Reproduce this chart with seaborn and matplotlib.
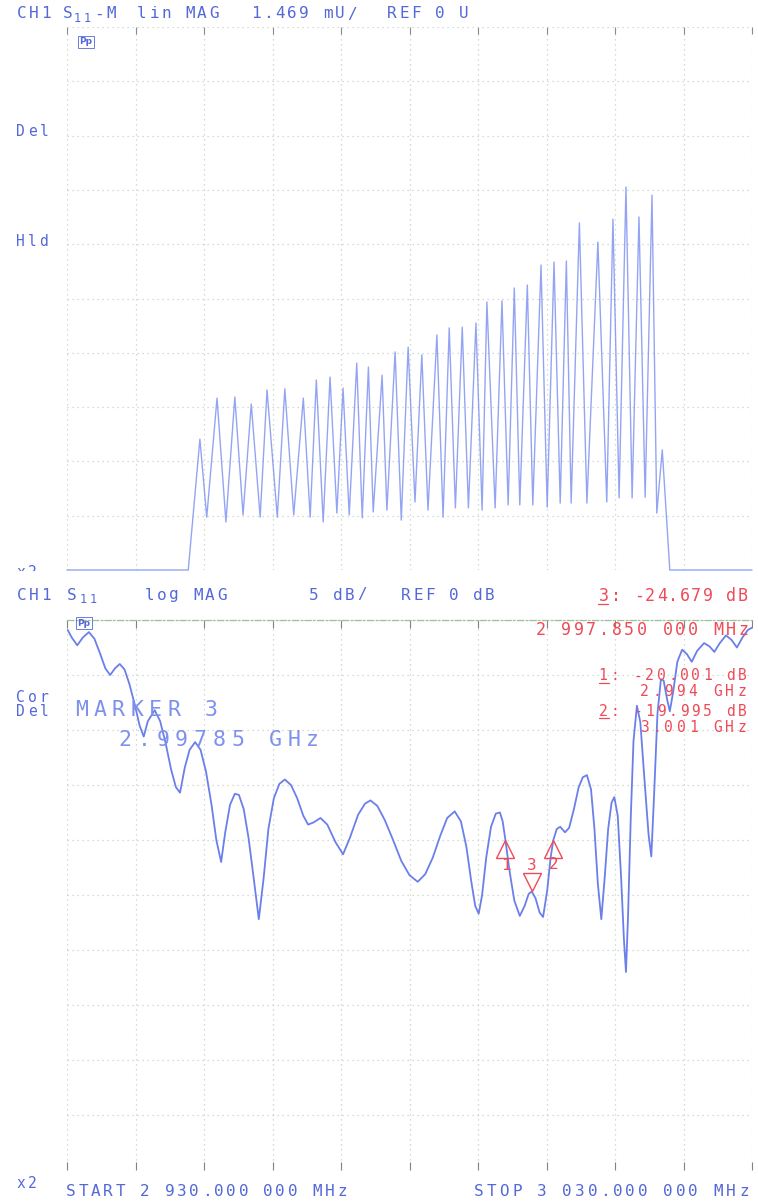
import numpy as np
import pandas as pd
import matplotlib
matplotlib.use("Agg")
import matplotlib.pyplot as plt
from matplotlib.transforms import offset_copy, Bbox, TransformedBbox
from matplotlib.lines import Line2D
import seaborn as sns

# sweep 2930 .. 3030 MHz
freq_start = 2930.0
freq_stop = 3030.0

# upper trace: S11 lin MAG (mU), peaks and troughs
lin_freq = [2930.0, 2947.7, 2949.4, 2950.4, 2951.9, 2953.2, 2954.5, 2955.7, 2956.9, 2958.2,
            2959.2, 2960.7, 2961.8, 2963.1, 2964.5, 2965.5, 2966.4, 2967.4, 2968.4, 2969.4,
            2970.3, 2971.2, 2972.3, 2973.1, 2974.0, 2974.7, 2976.0, 2976.7, 2977.9, 2978.8,
            2979.8, 2980.8, 2981.8, 2982.7, 2984.0, 2984.9, 2985.8, 2986.7, 2987.7, 2988.6,
            2989.7, 2990.6, 2991.3, 2992.5, 2993.5, 2994.4, 2995.3, 2996.1, 2997.2, 2998.0,
            2999.2, 3000.1, 3001.1, 3002.0, 3002.9, 3003.6, 3004.8, 3005.9, 3007.5, 3008.8,
            3009.7, 3010.6, 3011.6, 3012.5, 3013.5, 3014.4, 3015.4, 3016.1, 3016.9, 3018.0,
            3030.0]
lin_mu = [0.0, 0.0, 3.54, 1.43, 4.65, 1.30, 4.68, 1.49, 4.49, 1.43,
          4.87, 1.43, 4.90, 1.49, 4.65, 1.43, 5.14, 1.30, 5.22, 1.54,
          4.92, 1.49, 5.60, 1.41, 5.49, 1.57, 5.27, 1.62, 5.90, 1.35,
          6.03, 1.84, 5.82, 1.62, 6.36, 1.43, 6.55, 1.68, 6.57, 1.68,
          6.68, 1.62, 7.25, 1.68, 7.28, 1.76, 7.63, 1.76, 7.71, 1.76,
          8.25, 1.70, 8.33, 1.81, 8.36, 1.81, 9.39, 1.81, 8.87, 1.84,
          9.49, 1.95, 10.36, 1.95, 9.55, 1.97, 10.14, 1.54, 3.25, 0.0,
          0.0]

# lower trace: S11 log MAG (dB)
log_freq = [2930.1, 2930.7, 2931.5, 2932.3, 2933.2, 2934.0, 2934.8, 2935.6, 2936.3, 2937.0,
            2937.7, 2938.4, 2939.1, 2939.9, 2940.6, 2941.2, 2941.8, 2942.8, 2943.6, 2944.4,
            2945.2, 2945.9, 2946.5, 2947.2, 2947.9, 2948.7, 2949.5, 2950.3, 2951.1, 2951.8,
            2952.5, 2953.1, 2953.8, 2954.5, 2955.1, 2955.8, 2956.5, 2957.2, 2958.0, 2958.7,
            2959.4, 2960.2, 2961.0, 2961.8, 2962.7, 2963.6, 2964.5, 2965.2, 2966.0, 2967.0,
            2968.0, 2969.2, 2970.3, 2971.3, 2972.5, 2973.5, 2974.3, 2975.3, 2976.4, 2977.6,
            2978.8, 2980.0, 2981.2, 2982.3, 2983.4, 2984.5, 2985.5, 2986.6, 2987.5, 2988.3,
            2989.0, 2989.6, 2990.1, 2990.6, 2991.2, 2991.9, 2992.6, 2993.2, 2993.6, 2994.0,
            2994.6, 2995.3, 2996.1, 2996.8, 2997.4, 2997.85, 2998.4, 2999.0, 2999.5, 3000.1,
            3000.6, 3001.0, 3001.5, 3002.0, 3002.7, 3003.3, 3004.0, 3004.7, 3005.3, 3005.9,
            3006.5, 3007.0, 3007.5, 3008.0, 3008.5, 3009.0, 3009.5, 3009.9, 3010.4, 3010.9,
            3011.3, 3011.6, 3011.9, 3012.3, 3012.7, 3013.2, 3013.7, 3014.3, 3014.9, 3015.3,
            3015.7, 3016.2, 3016.7, 3017.1, 3017.6, 3018.0, 3018.5, 3019.1, 3019.8, 3020.5,
            3021.2, 3022.0, 3023.0, 3023.8, 3024.5, 3025.3, 3026.2, 3027.0, 3027.8, 3028.6,
            3029.4, 3030.0]
log_db = [-0.9, -1.6, -2.3, -1.6, -1.1, -1.7, -3.0, -4.4, -5.0, -4.4,
          -4.0, -4.5, -5.8, -7.7, -9.6, -10.6, -9.2, -8.2, -9.2, -11.2,
          -13.6, -15.2, -15.7, -13.4, -11.8, -11.1, -11.8, -13.8, -16.8, -20.0,
          -22.0, -19.3, -16.8, -15.8, -15.9, -17.2, -19.8, -23.2, -27.2, -23.5,
          -19.0, -16.2, -14.9, -14.5, -15.0, -16.2, -17.8, -18.6, -18.4, -18.0,
          -18.6, -20.2, -21.3, -19.8, -17.7, -16.7, -16.4, -16.9, -18.2, -20.0,
          -21.9, -23.2, -23.8, -23.1, -21.6, -19.6, -18.0, -17.4, -18.3, -20.6,
          -23.7, -26.0, -26.7, -25.0, -21.6, -18.8, -17.6, -17.5, -18.3, -20.0,
          -22.8, -25.5, -26.9, -26.0, -24.9, -24.68, -25.3, -26.6, -27.0, -24.6,
          -21.6, -20.0, -19.0, -18.8, -19.3, -18.9, -17.2, -15.2, -14.3, -14.1,
          -15.4, -19.0, -24.0, -27.2, -23.4, -19.0, -16.6, -16.1, -17.8, -23.5,
          -29.0, -32.0, -27.0, -18.0, -11.0, -7.8, -9.3, -14.5, -19.5, -21.5,
          -16.0, -8.5, -5.4, -5.5, -7.2, -8.3, -6.5, -3.8, -2.7, -3.1,
          -3.8, -2.8, -2.1, -2.4, -2.9, -2.1, -1.4, -1.8, -2.5, -1.6,
          -0.9, -0.7]

# markers
marker_ids = ["1", "2", "3"]
marker_freq = [2994.0, 3001.0, 2997.85]
marker_db = [-20.001, -19.995, -24.679]

lin_per_div = 1.469
db_per_div = 5.0

W, H = 758, 1204
BLUE = "#5468d8"
TRACE = "#6b7fea"
RED = "#ee4a58"
GRID = "#c3d3c3"
MONO = "DejaVu Sans Mono"

sns.set_style("white")
plt.rcParams["font.family"] = [MONO, "DejaVu Sans"]

fig = plt.figure(figsize=(W / 100, H / 100), dpi=100)


def px_axes(left, top, right, bottom):
    return fig.add_axes([left / W, 1 - bottom / H, (right - left) / W, (bottom - top) / H])


def mono(x, y, s, pitch, size, color):
    # lay out text on a fixed character pitch like the plotter font
    for i, ch in enumerate(s):
        if ch != " ":
            fig.text((x + i * pitch + pitch / 2) / W, 1 - y / H, ch, ha="center",
                     va="center", fontsize=size, family=MONO, color=color)


def mono_r(xr, y, s, pitch, size, color):
    mono(xr - len(s) * pitch, y, s, pitch, size, color)


def style_panel(ax, ymax, per_div):
    ax.set_xlim(freq_start, freq_stop)
    ax.set_xticks(np.arange(freq_start, freq_stop + 1, 10))
    ax.set_yticks(np.arange(0, 11) * per_div + (ymax - 10 * per_div))
    ax.grid(True, color=GRID, linestyle=(0, (1, 3)), linewidth=0.9)
    ax.set_xticklabels([])
    ax.set_yticklabels([])
    ax.set_xlabel("")
    ax.set_ylabel("")
    for sp in ax.spines.values():
        sp.set_visible(False)


# upper panel
ax1 = px_axes(67, 27, 752, 570)
df_lin = pd.DataFrame({"freq": lin_freq, "val": lin_mu})
sns.lineplot(data=df_lin, x="freq", y="val", ax=ax1, estimator=None, sort=False,
             color="#7a8ef0", linewidth=1.0, alpha=0.8)
ax1.lines[-1].set_clip_on(False)
ax1.set_ylim(0, 10 * lin_per_div)
style_panel(ax1, 10 * lin_per_div, lin_per_div)
ax1.tick_params(axis="x", top=True, bottom=False, direction="in", length=5,
                color="#8a8a8a", width=0.8)
ax1.tick_params(axis="y", length=0)

# lower panel
ax2 = px_axes(67, 620, 752, 1170)
df_log = pd.DataFrame({"freq": log_freq, "val": log_db})
sns.lineplot(data=df_log, x="freq", y="val", ax=ax2, estimator=None, sort=False,
             color=TRACE, linewidth=1.3)
ax2.set_ylim(-10 * db_per_div, 0)
style_panel(ax2, 0, db_per_div)
ax2.spines["top"].set_visible(True)
ax2.spines["top"].set_linestyle((0, (5, 2, 1, 2)))
ax2.spines["top"].set_color("#9cc09e")
ax2.spines["top"].set_linewidth(0.9)
ax2.tick_params(axis="x", top=True, bottom=True, direction="in", length=6,
                color="#7a8a7a", width=0.8)
ax2.tick_params(axis="y", length=0)

# marker triangles
up = offset_copy(ax2.transData, fig=fig, x=0, y=-6.5, units="points")
down = offset_copy(ax2.transData, fig=fig, x=0, y=6.5, units="points")
for mid, mf, md in zip(marker_ids, marker_freq, marker_db):
    if mid == "3":
        ax2.plot([mf], [md], marker="v", markersize=13, markerfacecolor="none",
                 markeredgecolor=RED, markeredgewidth=1.0, transform=down, clip_on=False)
        ax2.annotate(mid, (mf, md), xytext=(0, 19), textcoords="offset points",
                     ha="center", va="center", color=RED, fontsize=11.5, family=MONO)
    else:
        ax2.plot([mf], [md], marker="^", markersize=13, markerfacecolor="none",
                 markeredgecolor=RED, markeredgewidth=1.0, transform=up, clip_on=False)
        ax2.annotate(mid, (mf, md), xytext=(0, -18), textcoords="offset points",
                     ha="center", va="center", color=RED, fontsize=11.5, family=MONO)

# header of upper panel
hs = 11.5
mono(16, 14, "CH1", 12, hs, BLUE)
mono(62, 14, "S", 12, hs, BLUE)
mono(72, 18, "11", 10, 8.5, BLUE)
mono(93, 14, "-M", 12, hs, BLUE)
mono(136, 14, "lin MAG", 12, hs, BLUE)
mono(250, 14, "1.469 mU/", 12, hs, BLUE)
mono(386, 14, "REF 0 U", 12, hs, BLUE)

# header of lower panel
mono(16, 595, "CH1", 12, hs, BLUE)
mono(66, 595, "S", 12, hs, BLUE)
mono(78, 600, "11", 10, 8.5, BLUE)
mono(144, 595, "log MAG", 12, hs, BLUE)
mono(308, 595, "5 dB/", 12, hs, BLUE)
mono(400, 595, "REF 0 dB", 12, hs, BLUE)

# marker readouts
rs = 12
mono_r(748, 596, "3: -24.679 dB", 11.5, rs, RED)
mono_r(750, 630, "2 997.850 000 MHz", 12.7, rs, RED)
rs2 = 10.5
mono_r(748, 676, "1: -20.001 dB", 11.6, rs2, RED)
mono_r(748, 692, "2.994 GHz", 12.2, rs2, RED)
mono_r(748, 711, "2: -19.995 dB", 11.6, rs2, RED)
mono_r(748, 728, "3.001 GHz", 12.2, rs2, RED)
for xs, ys in [(598, 604), (599, 683), (599, 718)]:
    fig.add_artist(Line2D([xs / W, (xs + 10) / W], [1 - ys / H, 1 - ys / H],
                          color=RED, linewidth=0.9))

# side annotations
ls = 10.5
mono(15, 131, "Del", 11.5, ls, BLUE)
mono(15, 241, "Hld", 11.5, ls, BLUE)
mono(15, 697, "Cor", 11.5, ls, BLUE)
mono(15, 712, "Del", 11.5, ls, BLUE)
mono(15, 1183, "x2", 11.5, ls, BLUE)
clip = TransformedBbox(Bbox([[0, 1 - 571 / H], [80 / W, 1 - 560 / H]]), fig.transFigure)
for i, ch in enumerate("x2"):
    t = fig.text((15 + i * 11.5 + 5.75) / W, 1 - 573 / H, ch, ha="center", va="center",
                 fontsize=ls, family=MONO, color=BLUE)
    t.set_clip_box(clip)
    t.set_clip_on(True)

# marker 3 readout in the lower panel
MK = "#7f91ec"
mono(72, 710, "MARKER 3", 18.5, 15.5, MK)
mono(116, 740, "2.99785 GHz", 18.7, 15.5, MK)

# sweep limits
mono(65, 1192, "START 2 930.000 000 MHz", 12.3, hs, BLUE)
mono_r(750, 1192, "STOP 3 030.000 000 MHz", 12.6, hs, BLUE)

# small status boxes
for bx, by in [(86, 42), (84, 623)]:
    fig.text(bx / W, 1 - by / H, "Pp", ha="center", va="center", fontsize=6.5,
             family="DejaVu Sans", color=BLUE, fontweight="bold",
             bbox=dict(boxstyle="square,pad=0.15", fc="none", ec=BLUE, lw=0.6))

fig.savefig("out.png", dpi=100)
